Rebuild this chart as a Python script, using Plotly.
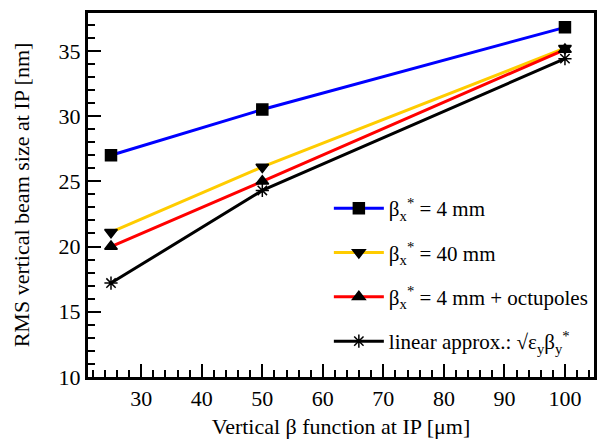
import plotly.graph_objects as go

beta_y = [25, 50, 100]
sigma_bx4 = [27.0, 30.5, 36.8]
sigma_bx40 = [21.1, 26.1, 35.2]
sigma_bx4_oct = [20.0, 25.0, 35.1]
sigma_linear = [17.2, 24.3, 34.4]

names = [
    "β<sub>x</sub><sup>*</sup> = 4 mm",
    "β<sub>x</sub><sup>*</sup> = 40 mm",
    "β<sub>x</sub><sup>*</sup> = 4 mm + octupoles",
    "linear approx.: √ε<sub>y</sub>β<sub>y</sub><sup>*</sup>",
]
series = [sigma_bx4, sigma_bx40, sigma_bx4_oct, sigma_linear]
colors = ["#0000ff", "#ffcc00", "#ff0000", "#000000"]
symbols = ["square", "triangle-down", "triangle-up", "asterisk-open"]
sizes = [11, 11, 11, 11]

FONT = "Liberation Serif"

fig = go.Figure()
for i, (nm, ys, c, s, sz) in enumerate(zip(names, series, colors, symbols, sizes)):
    fig.add_trace(go.Scatter(
        x=beta_y, y=ys, name=nm, mode="lines+markers",
        line=dict(color=c, width=3),
        marker=dict(symbol=s, size=sz, color="black",
                    line=dict(color="black", width=1.5)),
        legendgroup=f"g{i}",
    ))

fig.update_layout(
    width=599, height=433,
    margin=dict(l=80, r=13, t=5, b=64),
    paper_bgcolor="white", plot_bgcolor="white",
    font=dict(family=FONT, size=22, color="black"),
    showlegend=True,
    legend=dict(x=0.476, y=0.519, xanchor="left", yanchor="top",
                bgcolor="rgba(0,0,0,0)", tracegroupgap=14, itemwidth=50,
                font=dict(family=FONT, size=21)),
    xaxis=dict(
        range=[21.2, 104.8], showgrid=False, zeroline=False, automargin=False,
        showline=True, linecolor="black", linewidth=3, mirror=True,
        ticks="inside", ticklen=13, tickwidth=2, tickcolor="black",
        tick0=0, dtick=10,
        minor=dict(ticks="inside", ticklen=7, tickwidth=2, tickcolor="black", dtick=2, tick0=0),
        title=dict(text="Vertical β function at IP [μm]", font=dict(size=22), standoff=9),
        tickfont=dict(size=22),
    ),
    yaxis=dict(
        range=[10, 37.9], showgrid=False, zeroline=False, automargin=False,
        showline=True, linecolor="black", linewidth=3, mirror=True,
        ticks="inside", ticklen=13, tickwidth=2, tickcolor="black",
        tick0=0, dtick=5,
        minor=dict(ticks="inside", ticklen=7, tickwidth=2, tickcolor="black", dtick=1, tick0=0),
        title=dict(text="RMS vertical beam size at IP [nm]", font=dict(size=22), standoff=23),
        tickfont=dict(size=22),
    ),
)

fig.write_html("out.html")
